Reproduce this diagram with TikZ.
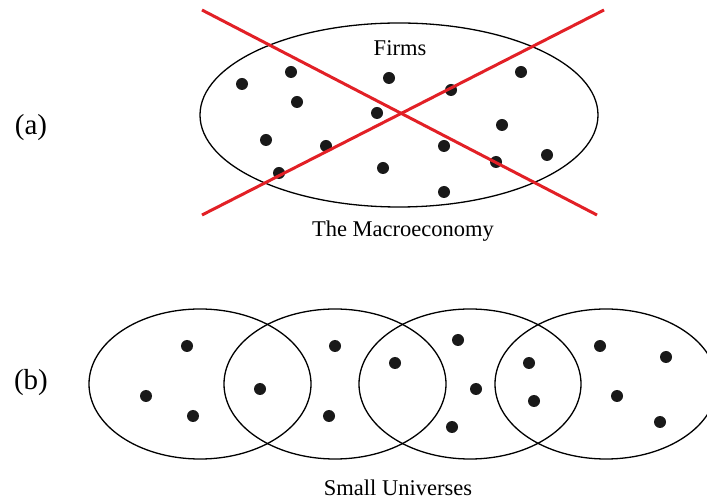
\documentclass[tikz,border=0pt]{standalone}
\usepackage{fontspec}
\setmainfont{Liberation Serif}
\usepackage{tikz}
\usetikzlibrary{shapes.geometric,positioning}
\definecolor{crossred}{RGB}{226,32,38}

\begin{document}
\begin{tikzpicture}[
  x=1pt, y=-1pt,
  universe/.style={draw, ellipse, line width=1.3pt, inner sep=0pt},
  firm/.style={circle, fill=black!90, inner sep=0pt, minimum size=12pt},
  lbl/.style={font=\fontsize{22.5}{26}\selectfont, inner sep=0pt},
  part/.style={font=\fontsize{29}{33}\selectfont, inner sep=0pt},
  cross/.style={draw=crossred, line width=3pt}
]
\useasboundingbox (0,0) rectangle (707,502);

% (a) the macroeconomy
\node[part] (pa) at (31,128) {(a)};
\node[universe, minimum width=398pt, minimum height=184pt] (macro) at (399,115) {};
\node[lbl] (firms) at (400,48) {Firms};
\node[lbl] (macrolbl) at (403,231) {The Macroeconomy};

\foreach \p [count=\i] in {(242,84),(291,72),(297,102),(389,78),(377,113),(451,90),
  (521,72),(502,125),(266,140),(326,146),(444,146),(279,173),(383,168),(496,162),
  (547,155),(444,192)}
  \node[firm] (f\i) at \p {};

% red cross
\coordinate (x1) at (202,10);
\coordinate (x2) at (597,215);
\coordinate (x3) at (202,215);
\coordinate (x4) at (604,10);
\draw[cross] (x1) -- (x2);
\draw[cross] (x3) -- (x4);

% (b) small universes
\node[part] (pb) at (31,383) {(b)};
\node[universe, minimum width=222pt, minimum height=150pt] (u1) at (200,384) {};
\node[universe, minimum width=222pt, minimum height=150pt] (u2) at (335,384) {};
\node[universe, minimum width=222pt, minimum height=150pt] (u3) at (470,384) {};
\node[universe, minimum width=222pt, minimum height=150pt] (u4) at (606,384) {};
\node[lbl] (smalllbl) at (398,488) {Small Universes};

\foreach \p [count=\i] in {(187,346),(146,396),(193,416),(260,389),(335,346),(329,416),
  (395,363),(458,340),(476,389),(452,427),(529,363),(534,401),(600,346),(666,357),
  (617,396),(660,422)}
  \node[firm] (s\i) at \p {};

\end{tikzpicture}
\end{document}
